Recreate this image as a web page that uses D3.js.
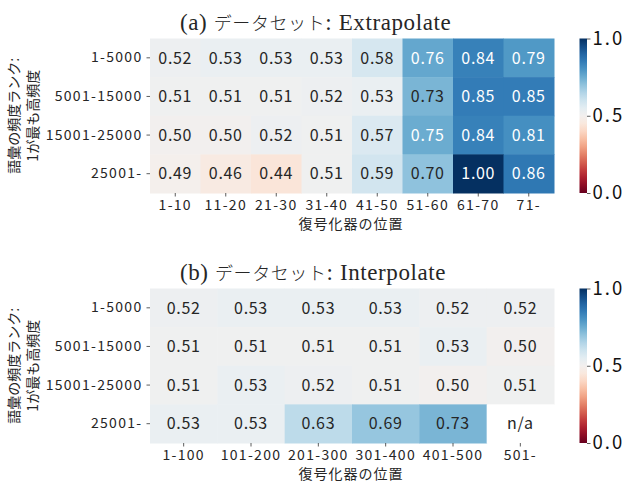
<!DOCTYPE html>
<html>
<head>
<meta charset="utf-8">
<script src="https://cdn.jsdelivr.net/npm/d3@7.9.0/dist/d3.min.js"></script>
<style>
  body { margin: 0; background: #fff; }
  svg { display: block; }
  .tick text { font-family: "Noto Sans CJK JP", sans-serif; }
</style>
</head>
<body>
<svg id="chart" width="626" height="482"></svg>
<script>
// rows (word frequency rank buckets)
const rowLabels = ["1-5000", "5001-15000", "15001-25000", "25001-"];

// (a) extrapolate
const extraCols = ["1-10", "11-20", "21-30", "31-40", "41-50", "51-60", "61-70", "71-"];
const extraRow1 = [0.52, 0.53, 0.53, 0.53, 0.58, 0.76, 0.84, 0.79];
const extraRow2 = [0.51, 0.51, 0.51, 0.52, 0.53, 0.73, 0.85, 0.85];
const extraRow3 = [0.50, 0.50, 0.52, 0.51, 0.57, 0.75, 0.84, 0.81];
const extraRow4 = [0.49, 0.46, 0.44, 0.51, 0.59, 0.70, 1.00, 0.86];

// (b) interpolate (null = n/a)
const interCols = ["1-100", "101-200", "201-300", "301-400", "401-500", "501-"];
const interRow1 = [0.52, 0.53, 0.53, 0.53, 0.52, 0.52];
const interRow2 = [0.51, 0.51, 0.51, 0.51, 0.53, 0.50];
const interRow3 = [0.51, 0.53, 0.52, 0.51, 0.50, 0.51];
const interRow4 = [0.53, 0.53, 0.63, 0.69, 0.73, null];

const cbarTicks = [0, 0.5, 1];

const svg = d3.select("#chart");
const color = d3.scaleSequential(d3.interpolateRdBu).domain([0, 1]);

// seaborn style text colour switch on luminance
function textColor(c) {
    const rgb = d3.rgb(c);
    const lin = [rgb.r, rgb.g, rgb.b].map(v => {
        v = v / 255;
        return v <= 0.03928 ? v / 12.92 : Math.pow((v + 0.055) / 1.055, 2.4);
    });
    const lum = 0.2126 * lin[0] + 0.7152 * lin[1] + 0.0722 * lin[2];
    return lum > 0.408 ? "#262626" : "#fff";
}

function drawPanel(opts) {
    const { top, bottom, cols, rows, tag, name } = opts;
    const left = 150, right = 554;
    const g = svg.append("g");

    const x = d3.scaleBand().domain(cols).range([left, right]);
    const y = d3.scaleBand().domain(rowLabels).range([top, bottom]);

    const cells = [];
    rows.forEach((r, i) => r.forEach((v, j) => cells.push({ row: rowLabels[i], col: cols[j], v })));

    g.selectAll("rect.cell")
        .data(cells)
        .enter()
        .append("rect")
        .attr("class", "cell")
        .attr("x", d => x(d.col))
        .attr("y", d => y(d.row))
        .attr("width", x.bandwidth() + 0.5)
        .attr("height", y.bandwidth() + 0.5)
        .attr("fill", d => d.v == null ? "#fff" : color(d.v));

    g.selectAll("text.val")
        .data(cells)
        .enter()
        .append("text")
        .attr("class", "val")
        .attr("x", d => x(d.col) + x.bandwidth() / 2)
        .attr("y", d => y(d.row) + y.bandwidth() / 2)
        .attr("dy", "0.36em")
        .attr("text-anchor", "middle")
        .style("font-family", "Noto Sans CJK JP, sans-serif")
        .style("font-size", "16px")
        .style("letter-spacing", "0.7px")
        .attr("fill", d => d.v == null ? "#262626" : textColor(color(d.v)))
        .text(d => d.v == null ? "n/a" : d.v.toFixed(2));

    // axes
    const xAxis = g.append("g")
        .attr("transform", `translate(0,${bottom})`)
        .call(d3.axisBottom(x).tickSize(3.5).tickPadding(4));
    const yAxis = g.append("g")
        .attr("transform", `translate(${left},0)`)
        .call(d3.axisLeft(y).tickSize(3.5).tickPadding(4));
    [xAxis, yAxis].forEach(a => {
        a.select(".domain").remove();
        a.selectAll(".tick line").attr("stroke", "#333").attr("stroke-width", 0.8);
        a.selectAll(".tick text")
            .style("font-size", "14px")
            .style("letter-spacing", "1.3px")
            .attr("fill", "#262626");
    });

    // title: serif latin + japanese
    const t = g.append("text")
        .attr("x", 180)
        .attr("y", top - 9)
        .attr("fill", "#262626")
        .style("letter-spacing", "0.6px");
    t.append("tspan")
        .style("font-family", "Liberation Serif, serif")
        .style("font-size", "23px")
        .text(tag + " ");
    t.append("tspan")
        .style("font-family", "Noto Sans CJK JP, sans-serif")
        .style("font-size", "18px")
        .style("font-weight", 300)
        .text("データセット");
    t.append("tspan")
        .style("font-family", "Liberation Serif, serif")
        .style("font-size", "23px")
        .text(": " + name);

    // x label
    g.append("text")
        .attr("x", 351)
        .attr("y", bottom + 36)
        .attr("text-anchor", "middle")
        .style("font-family", "Noto Sans CJK JP, sans-serif")
        .style("font-size", "14px")
        .style("letter-spacing", "1px")
        .attr("fill", "#262626")
        .text("復号化器の位置");

    // y label (two lines)
    const cy = (top + bottom) / 2;
    const yl = g.append("text")
        .attr("transform", `translate(19,${cy}) rotate(-90)`)
        .attr("text-anchor", "middle")
        .style("font-family", "Noto Sans CJK JP, sans-serif")
        .style("font-size", "14px")
        .attr("fill", "#262626");
    yl.append("tspan").attr("x", 0).attr("y", 0).text("語彙の頻度ランク:");
    yl.append("tspan").attr("x", 0).attr("y", 19).text("1が最も高頻度");

    // colorbar
    const cbX = 579.5, cbW = 7.5;
    const cy2 = d3.scaleLinear().domain([0, 1]).range([bottom, top]);
    const gradId = "grad" + Math.round(top);
    const grad = svg.append("defs").append("linearGradient")
        .attr("id", gradId)
        .attr("x1", 0).attr("y1", 1).attr("x2", 0).attr("y2", 0);
    d3.range(0, 1.0001, 0.05).forEach(s => {
        grad.append("stop").attr("offset", s).attr("stop-color", color(s));
    });
    g.append("rect")
        .attr("x", cbX).attr("y", top)
        .attr("width", cbW).attr("height", bottom - top)
        .attr("fill", `url(#${gradId})`);
    const cAxis = g.append("g")
        .attr("transform", `translate(${cbX + cbW},0)`)
        .call(d3.axisRight(cy2).tickValues(cbarTicks).tickFormat(d3.format(".1f")).tickSize(3.5).tickPadding(2));
    cAxis.select(".domain").remove();
    cAxis.selectAll(".tick line").attr("stroke", "#333").attr("stroke-width", 0.8);
    cAxis.selectAll(".tick text")
        .style("font-size", "18.5px")
        .style("letter-spacing", "2px")
        .attr("fill", "#111");
}

drawPanel({
    top: 38.5, bottom: 193,
    cols: extraCols,
    rows: [extraRow1, extraRow2, extraRow3, extraRow4],
    tag: "(a)", name: "Extrapolate"
});

drawPanel({
    top: 288.5, bottom: 443,
    cols: interCols,
    rows: [interRow1, interRow2, interRow3, interRow4],
    tag: "(b)", name: "Interpolate"
});
</script>
</body>
</html>
